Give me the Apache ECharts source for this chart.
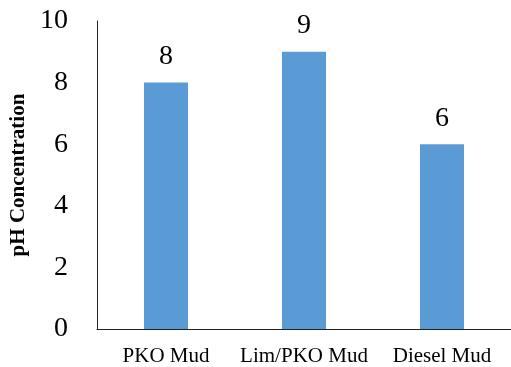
<!DOCTYPE html>
<html><head><meta charset="utf-8">
<script src="https://cdn.jsdelivr.net/npm/echarts@6/dist/echarts.min.js"></script>
<style>html,body{margin:0;padding:0;background:#fff}#c{width:511px;height:367px}</style>
</head><body><div id="c"></div>
<script>
var categories = ['PKO Mud', 'Lim/PKO Mud', 'Diesel Mud'];
var phValues = [8, 9, 6];
var yTicks = {min: 0, max: 10, interval: 2};
var yName = 'pH Concentration';

var chart = echarts.init(document.getElementById('c'), null, {renderer: 'canvas'});
var serif = 'Liberation Serif';
chart.setOption({
  animation: false,
  backgroundColor: '#fff',
  grid: {left: 97, top: 21, height: 310, right: -4.5},
  xAxis: {
    type: 'category', data: categories,
    axisLine: {lineStyle: {color: '#222', width: 1}},
    axisTick: {show: false},
    axisLabel: {interval: 0, color: '#000', fontFamily: serif, fontSize: 21, margin: 17}
  },
  yAxis: {
    type: 'value', min: yTicks.min, max: yTicks.max, interval: yTicks.interval,
    name: yName, nameLocation: 'middle', nameGap: 63, nameRotate: 90,
    nameTextStyle: {color: '#000', fontFamily: serif, fontWeight: 'bold', fontSize: 21},
    axisLine: {show: true, lineStyle: {color: '#222', width: 1}},
    axisTick: {show: false},
    splitLine: {show: false},
    axisLabel: {color: '#000', fontFamily: serif, fontSize: 28, margin: 29}
  },
  series: [{
    type: 'bar', data: phValues, barWidth: 44,
    itemStyle: {color: '#5B9BD5'},
    label: {show: true, position: 'top', distance: 12, color: '#000', fontFamily: serif, fontSize: 28}
  }]
});
</script></body></html>
